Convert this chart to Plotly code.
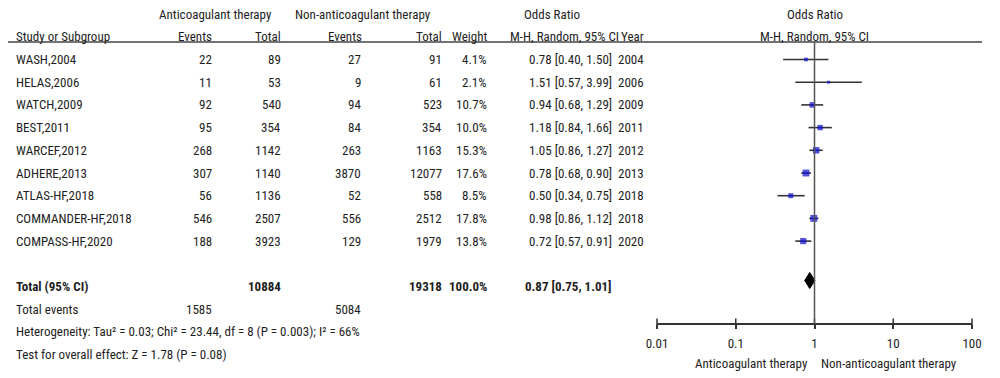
import math
import plotly.graph_objects as go

# ---------------- data ----------------
studies = ["WASH,2004", "HELAS,2006", "WATCH,2009", "BEST,2011", "WARCEF,2012",
           "ADHERE,2013", "ATLAS-HF,2018", "COMMANDER-HF,2018", "COMPASS-HF,2020"]
ant_events = [22, 11, 92, 95, 268, 307, 56, 546, 188]
ant_total = [89, 53, 540, 354, 1142, 1140, 1136, 2507, 3923]
non_events = [27, 9, 94, 84, 263, 3870, 52, 556, 129]
non_total = [91, 61, 523, 354, 1163, 12077, 558, 2512, 1979]
weights = [4.1, 2.1, 10.7, 10.0, 15.3, 17.6, 8.5, 17.8, 13.8]
or_est = [0.78, 1.51, 0.94, 1.18, 1.05, 0.78, 0.50, 0.98, 0.72]
ci_lo = [0.40, 0.57, 0.68, 0.84, 0.86, 0.68, 0.34, 0.86, 0.57]
ci_hi = [1.50, 3.99, 1.29, 1.66, 1.27, 0.90, 0.75, 1.12, 0.91]
years = [2004, 2006, 2009, 2011, 2012, 2013, 2018, 2018, 2020]

total_ant = 10884
total_non = 19318
total_weight = 100.0
pooled_or = 0.87
pooled_lo = 0.75
pooled_hi = 1.01
events_ant = 1585
events_non = 5084
heterogeneity = "Heterogeneity: Tau² = 0.03; Chi² = 23.44, df = 8 (P = 0.003); I² = 66%"
overall = "Test for overall effect: Z = 1.78 (P = 0.08)"

tick_vals = [0.01, 0.1, 1, 10, 100]
tick_text = ["0.01", "0.1", "1", "10", "100"]

# ---------------- layout helpers ----------------
FONT = "Roboto Condensed, Liberation Sans, Arial, sans-serif"
TXT = "#1e1e1e"
FS = 13
W, H = 1000, 378
OFF = 8  # page body margin compensation (screen px)
row0, step = 59.5, 22.7
row_y = [row0 + i * step for i in range(len(studies))]
y_total = row_y[-1] + 2 * step
y_events = y_total + 22.5
y_het = y_events + 22.7
y_test = y_het + 22.5
y_h1, y_h2 = 14, 36
axis_y = 324
fx0, fx1 = 657, 972  # forest axis extent on screen

fig = go.Figure()

ann = []


def txt(x, y, s, anchor="right", bold=False, size=FS, xref="x"):
    if bold:
        s = "<b>" + s + "</b>"
    ann.append(dict(x=x, y=y, xref=xref, yref="y", text=s, showarrow=False,
                    xanchor=anchor, yanchor="middle", borderpad=0,
                    font=dict(family=FONT, size=size, color=TXT)))


# headers
txt(215, y_h1, "Anticoagulant therapy", "center")
txt(363, y_h1, "Non-anticoagulant therapy", "center")
txt(552, y_h1, "Odds Ratio", "center")
txt(15, y_h2, "Study or Subgroup", "left")
txt(213, y_h2, "Events")
txt(282, y_h2, "Total")
txt(363, y_h2, "Events")
txt(443, y_h2, "Total")
txt(488, y_h2, "Weight")
txt(620, y_h2, "M-H, Random, 95% CI")
txt(645, y_h2, "Year")
txt(math.log10(1), y_h1, "Odds Ratio", "center", xref="x2")
txt(math.log10(1), y_h2, "M-H, Random, 95% CI", "center", xref="x2")

# rows
for i, name in enumerate(studies):
    y = row_y[i]
    txt(15, y, name, "left")
    txt(213, y, str(ant_events[i]))
    txt(282, y, str(ant_total[i]))
    txt(362, y, str(non_events[i]))
    txt(443, y, str(non_total[i]))
    txt(488, y, f"{weights[i]:.1f}%")
    txt(613, y, f"{or_est[i]:.2f} [{ci_lo[i]:.2f}, {ci_hi[i]:.2f}]")
    txt(645, y, str(years[i]))

# totals
txt(15, y_total, "Total (95% CI)", "left", bold=True)
txt(282, y_total, str(total_ant), bold=True)
txt(443, y_total, str(total_non), bold=True)
txt(488, y_total, f"{total_weight:.1f}%", bold=True)
txt(613, y_total, f"{pooled_or:.2f} [{pooled_lo:.2f}, {pooled_hi:.2f}]", bold=True)
txt(15, y_events, "Total events", "left")
txt(213, y_events, str(events_ant))
txt(362, y_events, str(events_non))
txt(15, y_het, heterogeneity, "left")
txt(15, y_test, overall, "left")

# favour labels (log10 positions on the log axis)
txt(-0.075, 363, "Anticoagulant therapy", "right", xref="x2")
txt(0.075, 363, "Non-anticoagulant therapy", "left", xref="x2")

# ---------------- forest plot ----------------
cx, cy = [], []
for i in range(len(studies)):
    cx += [ci_lo[i], ci_hi[i], None]
    cy += [row_y[i], row_y[i], None]
fig.add_trace(go.Scatter(x=cx, y=cy, xaxis="x2", yaxis="y", mode="lines",
                         line=dict(color="#333333", width=1.6),
                         hoverinfo="skip", showlegend=False))

fig.add_trace(go.Scatter(x=or_est, y=row_y, xaxis="x2", yaxis="y", mode="markers",
                         marker=dict(symbol="square", color="#0a0ad0",
                                     size=[1.45 * w ** 0.5 + 0.8 for w in weights],
                                     line=dict(width=0)),
                         showlegend=False))

# pooled diamond
fig.add_trace(go.Scatter(x=[pooled_lo, pooled_or, pooled_hi, pooled_or, pooled_lo],
                         y=[y_total - 6, y_total - 14, y_total - 6, y_total + 2, y_total - 6],
                         xaxis="x2", yaxis="y", mode="lines", fill="toself",
                         fillcolor="#000000", line=dict(color="#000000", width=1),
                         showlegend=False, hoverinfo="skip"))

# upper half of axis ticks
fig.add_trace(go.Scatter(x=tick_vals, y=[axis_y - 2] * len(tick_vals), xaxis="x2", yaxis="y",
                         mode="markers", cliponaxis=False,
                         marker=dict(symbol="line-ns", size=5,
                                     line=dict(color="#333333", width=1.5)),
                         showlegend=False, hoverinfo="skip"))

shapes = [
    dict(type="line", xref="x", yref="y", x0=5, x1=982, y0=42, y1=42,
         line=dict(color="#444444", width=1.6)),
    dict(type="line", xref="x2", yref="y", x0=1, x1=1, y0=42, y1=axis_y,
         line=dict(color="#555555", width=1.5)),
]

fig.update_layout(
    width=W, height=H,
    margin=dict(l=0, r=0, t=0, b=0, pad=0, autoexpand=False),
    paper_bgcolor="white", plot_bgcolor="rgba(0,0,0,0)",
    xaxis=dict(range=[OFF, W + OFF], domain=[0, 1], visible=False, fixedrange=True),
    yaxis=dict(range=[H + OFF, OFF], domain=[0, 1], visible=False, fixedrange=True),
    xaxis2=dict(type="log", range=[-2, 2],
                domain=[(fx0 - OFF) / W, (fx1 - OFF) / W],
                anchor="free", position=(H - (axis_y - OFF)) / H,
                showline=True, linecolor="#333333", linewidth=1.5,
                ticks="outside", ticklen=4, tickwidth=1.5, tickcolor="#333333",
                tickvals=tick_vals, ticktext=tick_text, ticklabelstandoff=4,
                tickfont=dict(family=FONT, size=FS, color=TXT),
                showgrid=False, zeroline=False, fixedrange=True),
    annotations=ann,
    shapes=shapes,
    showlegend=False,
)

fig.write_html("out.html")
